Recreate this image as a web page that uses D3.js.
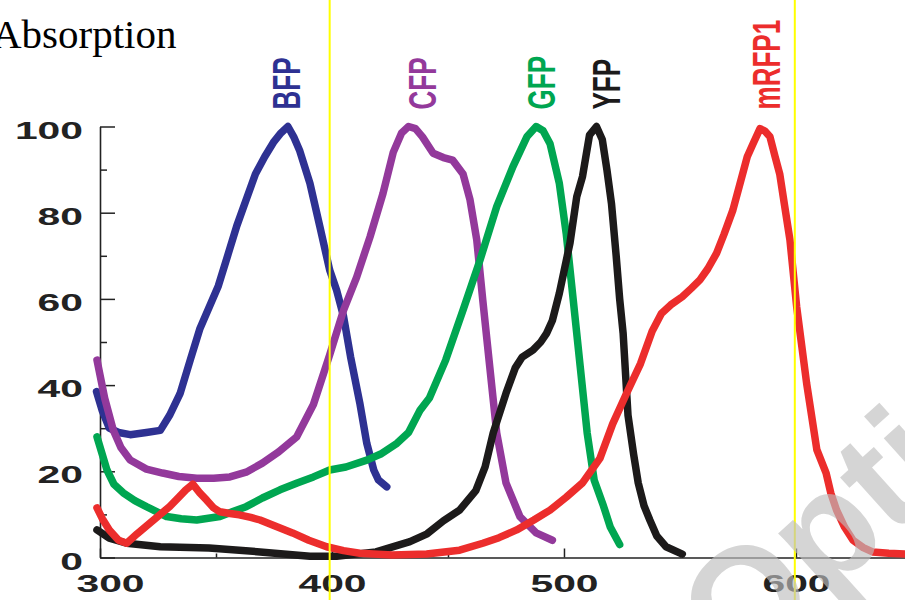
<!DOCTYPE html>
<html>
<head>
<meta charset="utf-8">
<script src="https://cdn.jsdelivr.net/npm/d3@7"></script>
<style>
  body { margin: 0; background: #fff; }
  svg { display: block; }
</style>
</head>
<body>
<script>
// absorption spectra of the fluorescent proteins, [wavelength nm, absorption %]
var bfp = [[298.5,38.5],[301,34],[304,30],[308,29],[313,28.5],[320,29],[326,29.5],[330,33],[334.5,38],[339,46],[343,53],[347,58],
  [351,63],[355,70],[359,77],[363,83],[367,89],[371,93],[375,96.5],[378,98.5],[381,100],[383.5,97.6],[386,94.5],[390.5,86.8],
  [394.8,76.7],[399,66.7],[402,62],[405,55.9],[408,46.6],[412,35.8],[415,26.5],[418,20.3],[420,18],[423.6,16.4]];
var cfp = [[298.7,45.8],[302,37],[305.7,29.6],[309,25.5],[313,22.6],[320,20.5],[327,19.6],[334,18.8],[341.7,18.4],[349,18.4],
  [356,18.7],[363,19.8],[370,21.9],[377,24.5],[384.8,28],[392,35.5],[399,47],[405,57.4],[410.6,65],[416.4,74.4],[422,84.5],
  [426.4,94],[430,98.5],[433,100],[436,99.5],[439,97.6],[443.6,93.8],[448,92.8],[452,92.2],[456.5,89],[459.5,83],[462.4,73.7],
  [465,59.7],[468,44.3],[471,28.9],[475,17.3],[481,9.5],[488,5.7],[495,4]];
var gfp = [[298.7,28],[303,20.3],[306,17],[310,15],[315,13.2],[320,11.8],[328.7,9.5],[335,9],[341.7,8.7],[351.7,9.5],[357,10.6],
  [363,11.8],[370,13.8],[377.6,15.7],[385,17.3],[392,18.7],[399,20.3],[406,21],[415,22.6],[421,24],[428,26.5],[433,29],[438,34.2],
  [442,37],[449,45.8],[456.5,57.4],[463.8,69],[471,81.4],[478,90.7],[484,97.6],[488,100],[491,99],[494,96],[498,86.8],[501,75],
  [504,59.7],[507,44.3],[510,28.9],[513,18],[517,12],[520,7],[524,3]];
var yfp = [[298.7,6.4],[304,4.5],[311.5,3.3],[326,2.5],[347,2.2],[369,1.3],[390.5,0.3],[402,0.3],[419,1.3],[433.6,3.7],[441,5.5],
  [448,8.5],[455,11],[462,15.5],[466,21],[469.5,28.9],[475,38.1],[479,44],[482,46.5],[486.6,48.1],[490,50],[492.5,52],[495,55],
  [498,61.3],[502.6,73],[505.5,83.7],[508,88.4],[511,98],[514,100],[516.5,97],[518.5,90],[520.5,82],[522.5,70],[524,60],
  [525.5,52],[527.6,33],[530,24],[532,17.3],[534.5,12],[537,8.7],[540,5],[544,2.5],[551,0.8]];
var mrfp1 = [[298.7,11.5],[301,9],[304,6.4],[308,4],[311.5,3.3],[316,5.5],[321.5,8],[326,10],[330,11.8],[334,14],[337,15.7],
  [340,17],[343,15],[346,13.3],[349,11.5],[351.7,10.6],[356,10.2],[360,9.9],[365,9.3],[369,8.7],[376,7.2],[383,5.7],[390,4],
  [397.7,2.5],[405,1.6],[412,1],[426,0.6],[440.8,0.8],[455,1.7],[465,3.3],[472,4.6],[479.6,6.4],[487,8.7],[494,11],[501,14],
  [508,17.3],[515.5,23],[521,31],[527,38.1],[533,45],[538,52.5],[542,56.6],[546,58.6],[551,60.5],[555,62.5],[558.6,64.4],
  [562,67],[565.8,70.6],[569,75],[572.8,80.6],[577,89],[579,93],[581.5,96],[584.5,99.5],[586.5,99],[588.8,97.6],[591,93],
  [593,89],[595,82],[597.4,73.7],[600.3,58.2],[604.6,40.4],[609,25],[613,19.6],[615,15],[617.5,11],[621,7],[624.6,4],[629,2.3],
  [633,1.3],[640,1],[648,0.8]];

var seriesNames = ["BFP", "CFP", "GFP", "YFP", "mRFP1"];
var seriesData = [bfp, cfp, gfp, yfp, mrfp1];
var labelWavelengths = [386, 445, 496, 524, 593]; // where each rotated name sits
var seriesColors = ["#2e3192", "#93399b", "#00a651", "#1c1a1a", "#ec2d2c"];

var xTicks = [300, 400, 500, 600];
var xMinorTicks = [350, 450, 550];
var yTicks = [0, 20, 40, 60, 80, 100];
var yMinorTicks = [10, 30, 50, 70, 90];
var markerLines = [399, 599.5]; // yellow vertical lines

var W = 905, H = 600;

var svg = d3.select("body").append("svg")
    .attr("width", W)
    .attr("height", H);

svg.append("rect").attr("width", W).attr("height", H).attr("fill", "#fff");

// x: 300 nm sits on the y-axis, the axis line runs to the right edge
var xScale = d3.scaleLinear().domain([300, 647]).range([100, 905]);
var yScale = d3.scaleLinear().domain([0, 100]).range([557.5, 126.5]);

var labelFont = "'Liberation Sans', Arial, sans-serif";

// title
svg.append("text")
    .attr("x", -8)
    .attr("y", 48)
    .attr("font-family", "'Liberation Serif', 'Times New Roman', serif")
    .attr("font-size", 41)
    .attr("fill", "#000")
    .text("Absorption");

// minor ticks first, then the labelled axes
svg.append("g")
    .attr("transform", "translate(100,0)")
    .call(d3.axisLeft(yScale).tickValues(yMinorTicks).tickSizeInner(-7).tickSizeOuter(0).tickFormat(""))
    .call(g => g.select(".domain").remove());
svg.append("g")
    .attr("transform", "translate(0,557.5)")
    .call(d3.axisBottom(xScale).tickValues(xMinorTicks).tickSizeInner(-4).tickSizeOuter(0).tickFormat(""))
    .call(g => g.select(".domain").remove());

var yAxis = svg.append("g")
    .attr("transform", "translate(100,0)")
    .call(d3.axisLeft(yScale).tickValues(yTicks).tickSizeInner(-15).tickSizeOuter(0).tickPadding(17));

var xAxis = svg.append("g")
    .attr("transform", "translate(0,557.5)")
    .call(d3.axisBottom(xScale).tickValues(xTicks).tickSizeInner(-9).tickSizeOuter(0).tickPadding(17.5));

svg.selectAll(".tick line").attr("stroke", "#222").attr("stroke-width", 1.5);
svg.selectAll(".domain").attr("stroke", "#222").attr("stroke-width", 1.6);

// the tick numbers are a very wide bold face: stretch them
[yAxis, xAxis].forEach(function(ax) {
  ax.selectAll("text")
    .attr("font-family", labelFont)
    .attr("font-weight", "bold")
    .attr("font-size", 24)
    .attr("fill", "#222")
    .attr("lengthAdjust", "spacingAndGlyphs")
    .attr("textLength", function() { return this.getComputedTextLength() * 1.7; });
});
yAxis.selectAll("text").attr("dy", "0.48em");
// first x label is nudged right of the corner
xAxis.selectAll("text").filter(d => d === 300).attr("dx", 10);

// spectra
var line = d3.line()
    .x(d => xScale(d[0]))
    .y(d => yScale(d[1]));

svg.selectAll(".spectrum")
  .data(seriesData)
  .enter().append("path")
    .attr("class", "spectrum")
    .attr("d", line)
    .attr("fill", "none")
    .attr("stroke", (d, i) => seriesColors[i])
    .attr("stroke-width", 7.5)
    .attr("stroke-linejoin", "round")
    .attr("stroke-linecap", "round");

// rotated, condensed series names
svg.selectAll(".name")
  .data(seriesNames)
  .enter().append("text")
    .attr("class", "name")
    .attr("transform", (d, i) => "translate(" + xScale(labelWavelengths[i]) + "," + (yScale(100) - 17) + ") rotate(-90)")
    .attr("font-family", labelFont)
    .attr("font-weight", "bold")
    .attr("font-size", 38)
    .attr("fill", (d, i) => seriesColors[i])
    .text(d => d)
    .attr("lengthAdjust", "spacingAndGlyphs")
    .attr("textLength", function() { return this.getComputedTextLength() * 0.685; });

// yellow marker lines over everything else
svg.selectAll(".marker")
  .data(markerLines)
  .enter().append("line")
    .attr("class", "marker")
    .attr("x1", d => xScale(d)).attr("x2", d => xScale(d))
    .attr("y1", 0).attr("y2", H)
    .attr("stroke", "#ffff00")
    .attr("stroke-width", 2);

// faint watermark
svg.append("text")
    .attr("transform", "translate(737,677) rotate(-42)")
    .attr("font-family", labelFont)
    .attr("font-weight", "bold")
    .attr("font-size", 150)
    .attr("fill", "#bebebe")
    .attr("fill-opacity", 0.65)
    .text("Optics");
</script>
</body>
</html>
